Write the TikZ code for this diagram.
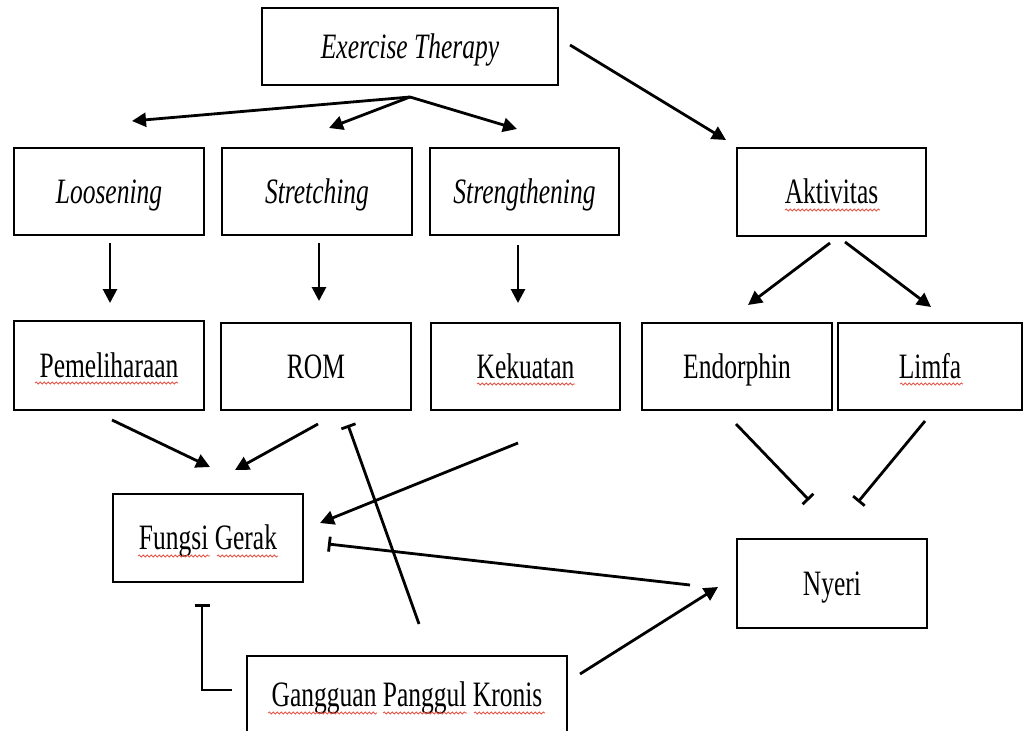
\documentclass[tikz,border=0pt]{standalone}
\usepackage{fontspec}
\setmainfont{Liberation Serif}
\usetikzlibrary{arrows.meta,decorations.pathmorphing}
\definecolor{spellred}{RGB}{228,84,72}
\newcommand{\vtxt}[1]{\scalebox{1}[1.4]{#1}}
\tikzset{
  box/.style={draw, line width=1.5pt, inner sep=0pt, text height=23.6pt, text depth=0pt,
    font=\fontsize{25.5}{30}\selectfont},
  arr/.style={line width=2.8pt, -{Triangle[length=14pt,width=14pt]}},
  inh/.style={line width=2.8pt, -{Bar[width=15pt,line width=2.8pt]}},
  wavy/.style={spellred, line width=0.8pt, decorate, decoration={snake, amplitude=1.1pt, segment length=4pt}}
}
\begin{document}
\begin{tikzpicture}[x=1pt,y=-1pt]
\useasboundingbox (0,0) rectangle (1024,730);
% boxes
\node[box, minimum width=296pt, minimum height=77pt] (et) at (410,46.5) {\vtxt{\itshape Exercise Therapy}};
\node[box, minimum width=190pt, minimum height=87pt] (loos) at (109,191.5) {\vtxt{\itshape Loosening}};
\node[box, minimum width=190pt, minimum height=87pt] (stre) at (317,191.5) {\vtxt{\itshape Stretching}};
\node[box, minimum width=189pt, minimum height=87pt] (strg) at (524.5,191.5) {\vtxt{\itshape Strengthening}};
\node[box, minimum width=189pt, minimum height=88pt] (akt) at (831.5,192) {\vtxt{Aktivitas}};
\node[box, minimum width=190pt, minimum height=89pt] (pem) at (109,365.5) {\vtxt{Pemeliharaan}};
\node[box, minimum width=190pt, minimum height=87pt] (rom) at (316,366.5) {\vtxt{ROM}};
\node[box, minimum width=189pt, minimum height=87pt] (kek) at (525.5,366.5) {\vtxt{Kekuatan}};
\node[box, minimum width=190pt, minimum height=87pt] (endo) at (737,366.5) {\vtxt{Endorphin}};
\node[box, minimum width=184pt, minimum height=87pt] (lim) at (930,366.5) {\vtxt{Limfa}};
\node[box, minimum width=190pt, minimum height=88pt] (fg) at (208,538) {\vtxt{Fungsi Gerak}};
\node[box, minimum width=190pt, minimum height=89pt] (ny) at (832,583.5) {\vtxt{Nyeri}};
\node[box, minimum width=320pt, minimum height=78pt] (gg) at (407,695) {\vtxt{Gangguan Panggul Kronis}};
% spell-check underlines
\draw[wavy] (785,210) -- (880,210);
\draw[wavy] (35,383) -- (178,383);
\draw[wavy] (477,384) -- (575,384);
\draw[wavy] (900,384) -- (963,384);
\draw[wavy] (138,556) -- (210,556);
\draw[wavy] (217,556) -- (278,556);
\draw[wavy] (268,713) -- (377,713);
\draw[wavy] (383,713) -- (467,713);
\draw[wavy] (474,713) -- (545,713);
% connector end points
\coordinate (etF) at (410,97);
\coordinate (loosT) at (132,121);
\coordinate (streT) at (329,128);
\coordinate (strgT) at (517,129);
\coordinate (etR) at (570,45);
\coordinate (aktT) at (726,140);
\coordinate (loosB) at (110,243);
\coordinate (pemT) at (110,303);
\coordinate (streB) at (319,243);
\coordinate (romT) at (319,301);
\coordinate (strgB) at (518,245);
\coordinate (kekT) at (518,303);
\coordinate (aktBL) at (830,243);
\coordinate (endoT) at (748,305);
\coordinate (aktBR) at (845,242);
\coordinate (limT) at (931,307);
\coordinate (pemB) at (112,420);
\coordinate (fgT1) at (210,467);
\coordinate (romB) at (318,424);
\coordinate (fgT2) at (235,470);
\coordinate (kekB) at (518,443);
\coordinate (fgR1) at (320,523);
\coordinate (endoB) at (736,424);
\coordinate (nyT1) at (809,500);
\coordinate (limB) at (925,421);
\coordinate (nyT2) at (858,502);
\coordinate (nyL) at (690,585);
\coordinate (fgR2) at (328,544);
\coordinate (ggR) at (580,674);
\coordinate (nyL2) at (718,587);
\coordinate (ggT) at (419,624);
\coordinate (romB2) at (348,425);
\coordinate (ggL) at (232,690);
\coordinate (brk) at (202,690);
\coordinate (fgB) at (202,604);
% connectors
\draw[arr] (etF) -- (loosT);
\draw[arr] (etF) -- (streT);
\draw[arr] (etF) -- (strgT);
\draw[arr] (etR) -- (aktT);
\draw[arr] (loosB) -- (pemT);
\draw[arr] (streB) -- (romT);
\draw[arr] (strgB) -- (kekT);
\draw[arr] (aktBL) -- (endoT);
\draw[arr] (aktBR) -- (limT);
\draw[arr] (pemB) -- (fgT1);
\draw[arr] (romB) -- (fgT2);
\draw[arr] (kekB) -- (fgR1);
\draw[inh] (endoB) -- (nyT1);
\draw[inh] (limB) -- (nyT2);
\draw[inh] (nyL) -- (fgR2);
\draw[arr] (ggR) -- (nyL2);
\draw[inh] (ggT) -- (romB2);
\draw[inh] (ggL) -- (brk) -- (fgB);
\end{tikzpicture}
\end{document}
